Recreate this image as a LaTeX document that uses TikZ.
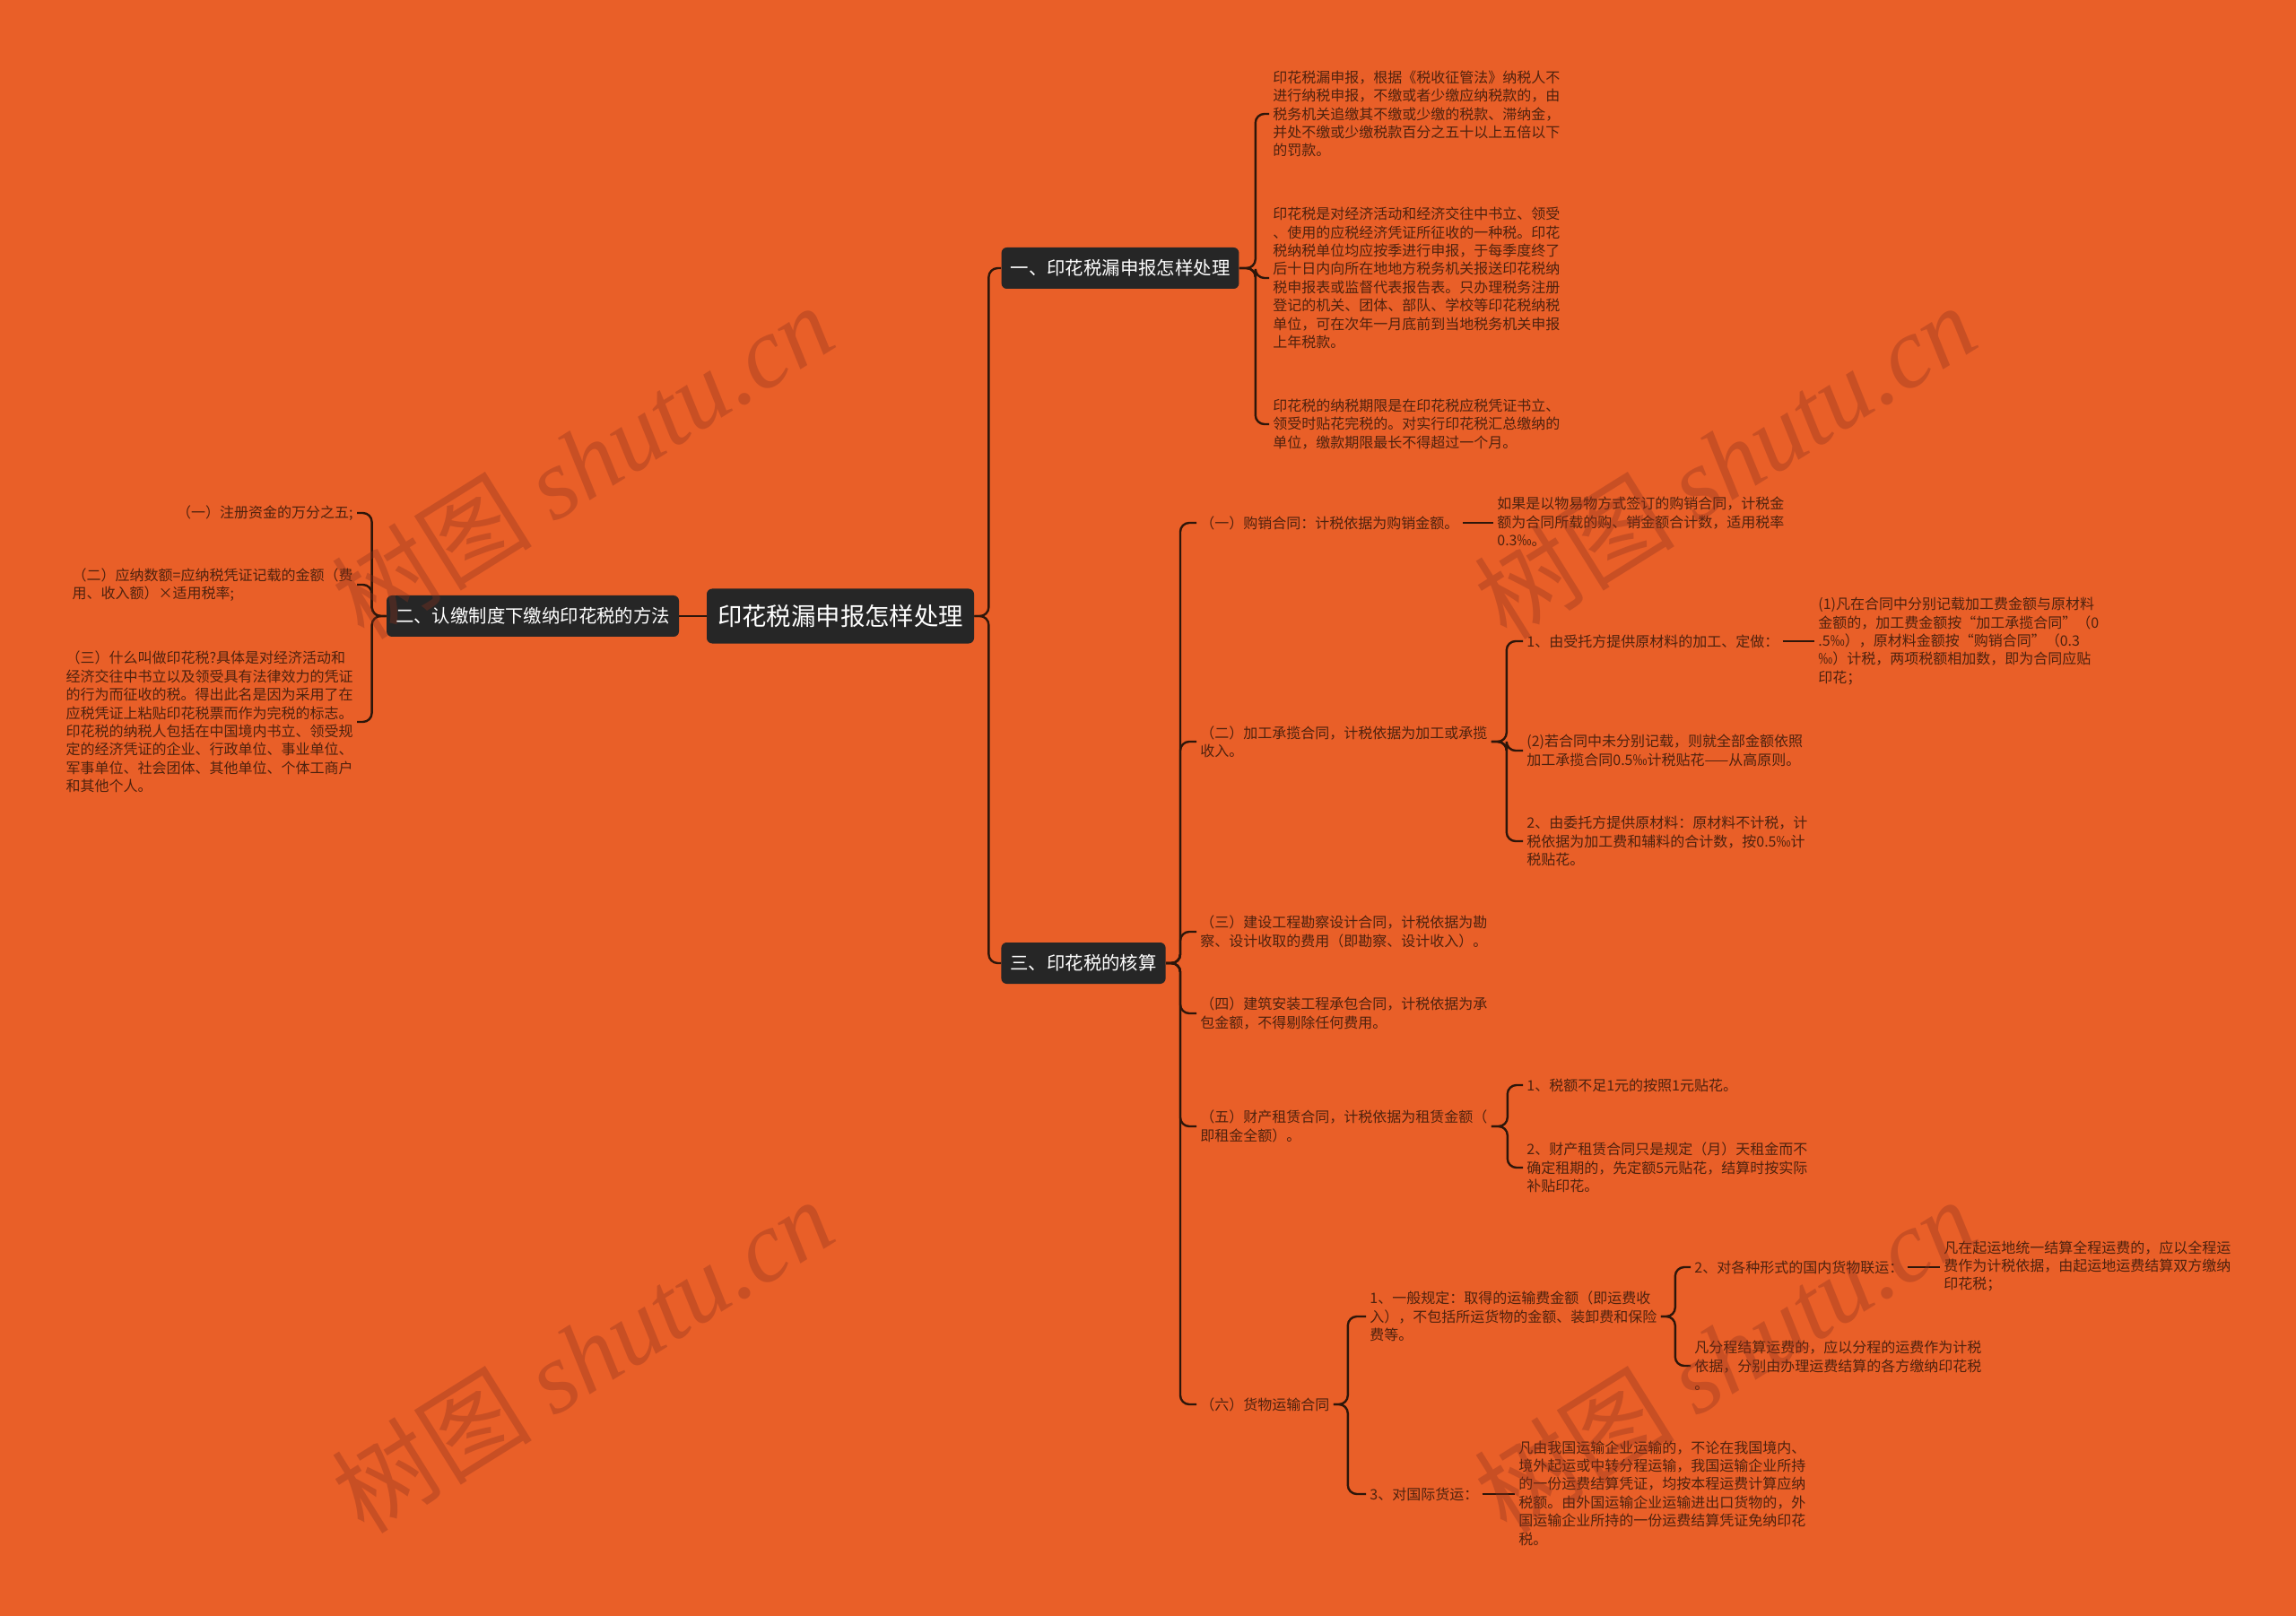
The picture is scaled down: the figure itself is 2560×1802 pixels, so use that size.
\documentclass[tikz,border=0pt]{standalone}
\usepackage{fontspec}
\setmainfont{Noto Sans CJK SC}
\newfontfamily\wmlatin{Liberation Serif}

\definecolor{bgorange}{RGB}{233,95,40}
\definecolor{boxgray}{RGB}{38,38,38}
\definecolor{linebrown}{RGB}{45,22,10}
\definecolor{leafbrown}{RGB}{78,34,14}
\definecolor{wmbrown}{RGB}{140,50,30}

\begin{document}
\begin{tikzpicture}[x=0.5pt, y=-0.5pt,
  topic/.style={fill=boxgray, text=white, rounded corners=3pt, inner xsep=5pt, minimum height=23pt, font=\fontsize{10.2}{12}\selectfont},
  leaf/.style={text=leafbrown, align=left, inner sep=2pt, font=\fontsize{8}{10.2}\selectfont},
  link/.style={draw=linebrown, line width=1.2pt, rounded corners=5pt},
  wmark/.style={text=wmbrown, text opacity=0.35, rotate=32, font=\fontsize{56}{56}\selectfont}]
\fill[bgorange] (0,0) rectangle (2560,1802);
\useasboundingbox (0,0) rectangle (2560,1802);

% centre and main topics
\node[topic, font=\fontsize{13.7}{16}\selectfont, inner xsep=6pt, minimum height=30.5pt] (root) at (937,687) {印花税漏申报怎样处理};
\node[topic] (t1) at (1249,299) {一、印花税漏申报怎样处理};
\node[topic] (t2) at (594,687) {二、认缴制度下缴纳印花税的方法};
\node[topic] (t3) at (1208,1074) {三、印花税的核算};

% topic 1
\node[leaf, anchor=west] (l11) at (1415,127) {印花税漏申报，根据《税收征管法》纳税人不\\进行纳税申报，不缴或者少缴应纳税款的，由\\税务机关追缴其不缴或少缴的税款、滞纳金，\\并处不缴或少缴税款百分之五十以上五倍以下\\的罚款。};
\node[leaf, anchor=west] (l12) at (1415,310) {印花税是对经济活动和经济交往中书立、领受\\、使用的应税经济凭证所征收的一种税。印花\\税纳税单位均应按季进行申报，于每季度终了\\后十日内向所在地地方税务机关报送印花税纳\\税申报表或监督代表报告表。只办理税务注册\\登记的机关、团体、部队、学校等印花税纳税\\单位，可在次年一月底前到当地税务机关申报\\上年税款。};
\node[leaf, anchor=west] (l13) at (1415,473) {印花税的纳税期限是在印花税应税凭证书立、\\领受时贴花完税的。对实行印花税汇总缴纳的\\单位，缴款期限最长不得超过一个月。};

% topic 2
\node[leaf, anchor=east] (l21) at (398,572) {（一）注册资金的万分之五;};
\node[leaf, anchor=east] (l22) at (398,652) {（二）应纳数额=应纳税凭证记载的金额（费\\用、收入额）×适用税率;};
\node[leaf, anchor=east] (l23) at (398,805) {（三）什么叫做印花税?具体是对经济活动和\\经济交往中书立以及领受具有法律效力的凭证\\的行为而征收的税。得出此名是因为采用了在\\应税凭证上粘贴印花税票而作为完税的标志。\\印花税的纳税人包括在中国境内书立、领受规\\定的经济凭证的企业、行政单位、事业单位、\\军事单位、社会团体、其他单位、个体工商户\\和其他个人。};

% topic 3
\node[leaf, anchor=west] (l31) at (1334,583) {（一）购销合同：计税依据为购销金额。};
\node[leaf, anchor=west] (l311) at (1665,582) {如果是以物易物方式签订的购销合同，计税金\\额为合同所载的购、销金额合计数，适用税率\\0.3‰。};
\node[leaf, anchor=west] (l32) at (1334,827) {（二）加工承揽合同，计税依据为加工或承揽\\收入。};
\node[leaf, anchor=west] (l321) at (1698,715) {1、由受托方提供原材料的加工、定做：};
\node[leaf, anchor=west] (l3211) at (2023,715) {(1)凡在合同中分别记载加工费金额与原材料\\金额的，加工费金额按“加工承揽合同”（0\\.5‰），原材料金额按“购销合同”（0.3\\‰）计税，两项税额相加数，即为合同应贴\\印花；};
\node[leaf, anchor=west] (l322) at (1698,837) {(2)若合同中未分别记载，则就全部金额依照\\加工承揽合同0.5‰计税贴花——从高原则。};
\node[leaf, anchor=west] (l323) at (1698,938) {2、由委托方提供原材料：原材料不计税，计\\税依据为加工费和辅料的合计数，按0.5‰计\\税贴花。};
\node[leaf, anchor=west] (l33) at (1334,1039) {（三）建设工程勘察设计合同，计税依据为勘\\察、设计收取的费用（即勘察、设计收入）。};
\node[leaf, anchor=west] (l34) at (1334,1130) {（四）建筑安装工程承包合同，计税依据为承\\包金额，不得剔除任何费用。};
\node[leaf, anchor=west] (l35) at (1334,1256) {（五）财产租赁合同，计税依据为租赁金额（\\即租金全额）。};
\node[leaf, anchor=west] (l351) at (1698,1210) {1、税额不足1元的按照1元贴花。};
\node[leaf, anchor=west] (l352) at (1698,1302) {2、财产租赁合同只是规定（月）天租金而不\\确定租期的，先定额5元贴花，结算时按实际\\补贴印花。};
\node[leaf, anchor=west] (l36) at (1334,1566) {（六）货物运输合同};
\node[leaf, anchor=west] (l361) at (1523,1468) {1、一般规定：取得的运输费金额（即运费收\\入），不包括所运货物的金额、装卸费和保险\\费等。};
\node[leaf, anchor=west] (l3611) at (1885,1413) {2、对各种形式的国内货物联运：};
\node[leaf, anchor=west] (l36111) at (2163,1412) {凡在起运地统一结算全程运费的，应以全程运\\费作为计税依据，由起运地运费结算双方缴纳\\印花税；};
\node[leaf, anchor=west] (l3612) at (1885,1523) {凡分程结算运费的，应以分程的运费作为计税\\依据，分别由办理运费结算的各方缴纳印花税\\。};
\node[leaf, anchor=west] (l362) at (1523,1666) {3、对国际货运：};
\node[leaf, anchor=west] (l3621) at (1689,1665) {凡由我国运输企业运输的，不论在我国境内、\\境外起运或中转分程运输，我国运输企业所持\\的一份运费结算凭证，均按本程运费计算应纳\\税额。由外国运输企业运输进出口货物的，外\\国运输企业所持的一份运费结算凭证免纳印花\\税。};

% connectors
\draw[link] (root.west) -- (t2.east);
\foreach \c in {t1,t3} \draw[link] (root.east) -- ++(16,0) |- (\c.west);
\foreach \c in {l11,l12,l13} \draw[link] (t1.east) -- ++(18,0) |- (\c.west);
\foreach \c in {l21,l22,l23} \draw[link] (t2.west) -- ++(-16,0) |- (\c.east);
\foreach \c in {l31,l32,l33,l34,l35,l36} \draw[link] (t3.east) -- ++(16,0) |- (\c.west);
\foreach \c in {l321,l322,l323} \draw[link] (l32.east) -- ++(17,0) |- (\c.west);
\foreach \c in {l351,l352} \draw[link] (l35.east) -- ++(18,0) |- (\c.west);
\foreach \c in {l361,l362} \draw[link] (l36.east) -- ++(16,0) |- (\c.west);
\foreach \c in {l3611,l3612} \draw[link] (l361.east) -- ++(16,0) |- (\c.west);
\foreach \a/\b in {l31/l311, l321/l3211, l3611/l36111, l362/l3621} \draw[link] (\a.east) -- (\a.east -| \b.west);

% watermarks
\foreach \wx/\wy in {649/514, 1923/514, 649/1511, 1923/1511}
  \node[wmark] at (\wx,\wy) {树图 {\wmlatin\itshape shutu.cn}};
\end{tikzpicture}
\end{document}
